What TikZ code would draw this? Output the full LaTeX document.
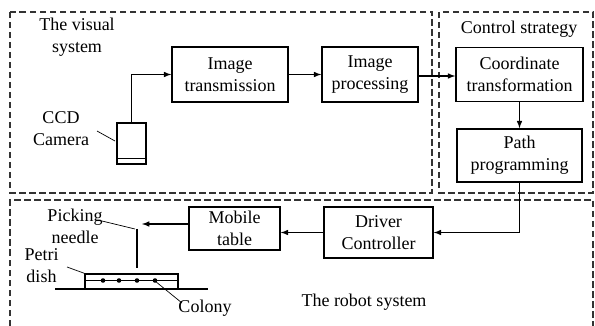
\documentclass[tikz,border=0pt]{standalone}
\usepackage{fontspec}
\setmainfont{Liberation Serif}
\usepackage{tikz}
\usetikzlibrary{positioning}

\begin{document}
\begin{tikzpicture}[x=1pt,y=-1pt,>=latex,font=\fontsize{18}{22}\selectfont]
    \tikzset{block/.style={draw,rectangle,line width=1.5pt,align=center,inner sep=0pt}}
    \tikzset{frame/.style={draw=black!80,line width=1.2pt,dash pattern=on 6.5pt off 3.5pt}}
    \tikzset{lead/.style={draw,line width=0.7pt}}
    \tikzset{caption/.style={align=center,inner sep=0pt}}
    \useasboundingbox (0,0) rectangle (595,326);
    % dashed frames of the three parts
    \draw[frame] (10,12) rectangle (432,193);
    \draw[frame] (439,12) rectangle (593,193);
    \draw[frame] (10,326) -- (10,200) -- (593,200) -- (593,326);
    \node[caption] (vis) at (77,37.5) {The visual\\system};
    \node[caption] (ctrl) at (519,29) {Control strategy};
    \node[caption] (robot) at (364,302) {The robot system};
    % blocks
    \node[block,minimum width=116pt,minimum height=55pt] (trans) at (230,74.5) {Image\\transmission};
    \node[block,minimum width=96pt,minimum height=55pt] (proc) at (370,74.5) {Image\\processing};
    \node[block,minimum width=127pt,minimum height=54pt] (coord) at (519.5,74.5) {Coordinate\\transformation};
    \node[block,minimum width=125pt,minimum height=53pt] (path) at (519.5,155.5) {Path\\programming};
    \node[block,minimum width=109pt,minimum height=51pt] (drv) at (378.5,232.5) {Driver\\Controller};
    \node[block,minimum width=91pt,minimum height=43pt] (mob) at (234.5,228.5) {Mobile\\table};
    % camera
    \node[draw,rectangle,line width=1.5pt,minimum width=29pt,minimum height=41pt,inner sep=0pt] (cam) at (131.5,143.5) {};
    \draw[line width=0.7pt] ([yshift=6pt]cam.south west) -- ([yshift=6pt]cam.south east);
    \node[caption] (ccd) at (61,129) {CCD\\Camera};
    \coordinate (ccdend) at (115,141);
    \draw[lead] (97,131) -- (ccdend);
    % picking needle and petri dish
    \coordinate (ntop) at (137,229);
    \coordinate (nbot) at (137,268);
    \coordinate (grab) at (142,224);
    \draw[line width=1.6pt] (ntop) -- (nbot);
    \node[draw,rectangle,line width=1.4pt,minimum width=93pt,minimum height=15pt,inner sep=0pt] (dish) at (131.5,281.5) {};
    \draw[line width=1pt] (dish.west |- 0,280.5) -- (dish.east |- 0,280.5);
    \foreach \cx in {103,119,137,155}
        \fill (\cx,280.5) circle (2.3pt);
    \coordinate (gl) at (55,289);
    \coordinate (gr) at (208,289);
    \draw[line width=1.2pt] (gl) -- (gr);
    \node[caption] (needle) at (75,226) {Picking\\needle};
    \node[caption] (petri) at (41.5,266) {Petri\\dish};
    \node[caption] (colony) at (205,308) {Colony};
    \draw[lead] (102,221) -- (135,229);
    \draw[lead] (67,267) -- (dish.north west);
    \draw[lead] (155,281) -- (182,303);
    % signal flow
    \path[->,line width=1.5pt]
    (cam.north) edge [to path={|- (\tikztotarget)}] (trans.west)
    (trans) edge (proc)
    (proc.east |- 0,76) edge (coord.west |- 0,76)
    (coord) edge (path)
    (path.south) edge [to path={|- (\tikztotarget)}] (drv.east)
    (drv.west) edge (drv.west -| mob.east)
    (mob.west |- grab) edge (grab)
    ;
\end{tikzpicture}
\end{document}
